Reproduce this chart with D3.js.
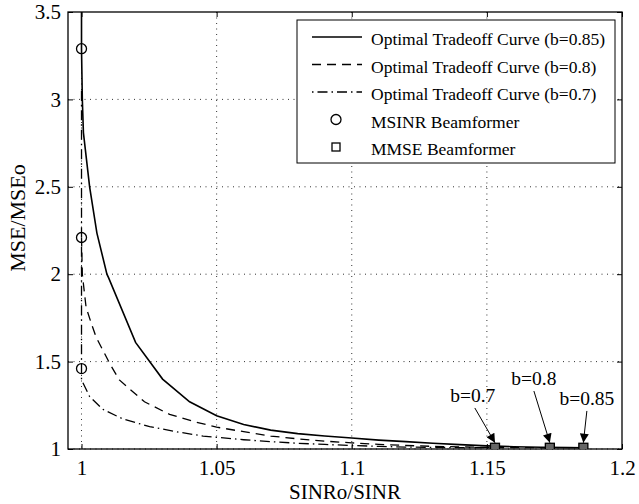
<!DOCTYPE html>
<meta charset="utf-8">
<style type="text/css">
  body { margin: 0; background: #fff; }
  svg { font-family: "Liberation Serif", "Times New Roman", serif; }
  .grid line { stroke: #333; stroke-width: 1; stroke-dasharray: 1,4.5; }
  .axis path { display: none; }
  .axis line { stroke: #000; stroke-width: 1; }
  .axis text { font-size: 21px; fill: #000; font-family: "Liberation Serif", serif; }
</style>
<body></body>
<script src="https://d3js.org/d3.v7.min.js"></script>
<script>
  // ---- data ----
  var xTicks = [1, 1.05, 1.1, 1.15, 1.2];
  var yTicks = [1, 1.5, 2, 2.5, 3, 3.5];

  var seriesNames = ["Optimal Tradeoff Curve (b=0.85)",
    "Optimal Tradeoff Curve (b=0.8)",
    "Optimal Tradeoff Curve (b=0.7)"];

  // b = 0.85 (solid)
  var x085 = [1.0, 1.0, 1.0003, 1.0007, 1.003, 1.0057, 1.0094, 1.01, 1.02, 1.03, 1.04, 1.05,
    1.06, 1.07, 1.08, 1.09, 1.10, 1.11, 1.12, 1.13, 1.14, 1.15, 1.16, 1.17, 1.18, 1.1857];
  var y085 = [3.6, 3.29, 3.0, 2.81, 2.5, 2.235, 2.0, 1.98, 1.61, 1.40, 1.27, 1.19,
    1.14, 1.108, 1.088, 1.074, 1.063, 1.051, 1.042, 1.033, 1.025, 1.018, 1.013, 1.010, 1.008, 1.007];

  // b = 0.8 (dashed)
  var x08 = [1.0, 1.0003, 1.0011, 1.0017, 1.0036, 1.0054, 1.0104, 1.014, 1.0233, 1.0326, 1.0425,
    1.05, 1.06, 1.07, 1.08, 1.09, 1.10, 1.11, 1.12, 1.13, 1.14, 1.15, 1.16, 1.1733];
  var y08 = [2.21, 2.0, 1.89, 1.81, 1.72, 1.64, 1.49, 1.395, 1.27, 1.198, 1.153,
    1.125, 1.099, 1.074, 1.058, 1.045, 1.035, 1.027, 1.02, 1.015, 1.012, 1.009, 1.008, 1.007];

  // b = 0.7 (dash-dot)
  var x07 = [1.0, 1.0, 1.0, 1.003, 1.0079, 1.0153, 1.0252, 1.035, 1.045, 1.05, 1.06, 1.07,
    1.08, 1.09, 1.10, 1.11, 1.12, 1.13, 1.14, 1.153];
  var y07 = [3.05, 1.46, 1.395, 1.30, 1.227, 1.172, 1.128, 1.099, 1.074, 1.067, 1.053, 1.042,
    1.033, 1.026, 1.02, 1.015, 1.011, 1.009, 1.008, 1.007];

  var msinrX = [1, 1, 1];
  var msinrY = [3.29, 2.21, 1.46];
  var mmseX = [1.153, 1.1733, 1.1857];
  var mmseY = [1.007, 1.007, 1.007];

  var annLabels = ["b=0.7", "b=0.8", "b=0.85"];
  var annX = [1.1448, 1.1674, 1.187];
  var annY = [1.269, 1.366, 1.252];

  // ---- layout ----
  var W = 639, H = 504;
  var margin = { top: 12, right: 17, bottom: 55, left: 68 },
    width = W - margin.left - margin.right,
    height = H - margin.top - margin.bottom;

  var x = d3.scaleLinear().domain([0.995, 1.2]).range([0, width]);
  var y = d3.scaleLinear().domain([1, 3.5]).range([height, 0]);

  var svg = d3.select("body").append("svg")
    .attr("width", W).attr("height", H);

  var defs = svg.append("defs");
  defs.append("clipPath").attr("id", "clip")
    .append("rect").attr("width", width).attr("height", height);
  defs.append("marker")
    .attr("id", "arrow")
    .attr("viewBox", "0 0 10 10")
    .attr("refX", 10).attr("refY", 5)
    .attr("markerUnits", "userSpaceOnUse")
    .attr("markerWidth", 12).attr("markerHeight", 9)
    .attr("orient", "auto")
    .append("path").attr("d", "M0,0L10,5L0,10z").attr("fill", "#000");

  var g = svg.append("g")
    .attr("transform", "translate(" + margin.left + "," + margin.top + ")");

  // grid
  var grid = g.append("g").attr("class", "grid");
  grid.selectAll(".gx").data(xTicks.filter(function(d) { return d < 1.19; }))
    .enter().append("line")
    .attr("x1", function(d) { return x(d); }).attr("x2", function(d) { return x(d); })
    .attr("y1", 0).attr("y2", height);
  grid.selectAll(".gy").data(yTicks.filter(function(d) { return d < 3.4; }))
    .enter().append("line")
    .attr("x1", 0).attr("x2", width)
    .attr("y1", function(d) { return y(d); }).attr("y2", function(d) { return y(d); });

  // axes (ticks pointing inward)
  g.append("g").attr("class", "axis")
    .attr("transform", "translate(0," + height + ")")
    .call(d3.axisBottom(x).tickValues(xTicks).tickSize(-5).tickPadding(11)
      .tickFormat(function(d) { return String(d); }));
  g.append("g").attr("class", "axis")
    .call(d3.axisLeft(y).tickValues(yTicks).tickSize(-5).tickPadding(7)
      .tickFormat(function(d) { return String(d); }));
  g.append("g").attr("class", "axis")
    .call(d3.axisTop(x).tickValues(xTicks).tickSize(-5).tickFormat(""));
  g.append("g").attr("class", "axis")
    .attr("transform", "translate(" + width + ",0)")
    .call(d3.axisRight(y).tickValues(yTicks).tickSize(-5).tickFormat(""));

  g.append("rect")
    .attr("width", width).attr("height", height)
    .attr("fill", "none").attr("stroke", "#000").attr("stroke-width", 1.3);

  // curves
  var line = d3.line()
    .x(function(d) { return x(d[0]); })
    .y(function(d) { return y(d[1]); });

  var curves = [
    { xs: x085, ys: y085, dash: null, w: 1.6 },
    { xs: x08, ys: y08, dash: "9,6", w: 1.3 },
    { xs: x07, ys: y07, dash: "10,4,1.5,4", w: 1.3 }
  ];

  var plot = g.append("g").attr("clip-path", "url(#clip)");
  curves.forEach(function(c) {
    plot.append("path")
      .datum(d3.zip(c.xs, c.ys))
      .attr("d", line)
      .attr("fill", "none")
      .attr("stroke", "#000")
      .attr("stroke-width", c.w)
      .attr("stroke-dasharray", c.dash);
  });

  plot.selectAll(".msinr").data(d3.zip(msinrX, msinrY))
    .enter().append("circle")
    .attr("cx", function(d) { return x(d[0]); })
    .attr("cy", function(d) { return y(d[1]); })
    .attr("r", 5)
    .attr("fill", "none").attr("stroke", "#000").attr("stroke-width", 1.3);

  plot.selectAll(".mmse").data(d3.zip(mmseX, mmseY))
    .enter().append("rect")
    .attr("x", function(d) { return x(d[0]) - 4.5; })
    .attr("y", function(d) { return y(d[1]) - 4.5; })
    .attr("width", 9).attr("height", 9)
    .attr("fill", "#666").attr("stroke", "#000").attr("stroke-width", 1.3);

  // annotations
  annLabels.forEach(function(t, i) {
    g.append("text")
      .attr("x", x(annX[i])).attr("y", y(annY[i]))
      .attr("text-anchor", "middle")
      .attr("font-size", 19.5)
      .text(t);
    g.append("line")
      .attr("x1", x(annX[i]) + (i === 0 ? 2 : 0)).attr("y1", y(annY[i]) + 6)
      .attr("x2", x(mmseX[i])).attr("y2", y(mmseY[i]) - 5)
      .attr("stroke", "#000").attr("stroke-width", 1)
      .attr("marker-end", "url(#arrow)");
  });

  // axis labels
  svg.append("text")
    .attr("x", margin.left + width / 2).attr("y", 499)
    .attr("text-anchor", "middle").attr("font-size", 21)
    .text("SINRo/SINR");
  svg.append("text")
    .attr("transform", "translate(25," + 218 + ") rotate(-90)")
    .attr("text-anchor", "middle").attr("font-size", 22)
    .text("MSE/MSEo");

  // legend
  var lg = svg.append("g");
  lg.append("rect")
    .attr("x", 297).attr("y", 20).attr("width", 318).attr("height", 143)
    .attr("fill", "#fff").attr("stroke", "#000").attr("stroke-width", 1);

  var legendItems = [
    { label: seriesNames[0], kind: "line", dash: null, w: 1.6 },
    { label: seriesNames[1], kind: "line", dash: "9,6", w: 1.3 },
    { label: seriesNames[2], kind: "line", dash: "1.5,4,10,4", w: 1.3 },
    { label: "MSINR Beamformer", kind: "circle" },
    { label: "MMSE Beamformer", kind: "square" }
  ];
  legendItems.forEach(function(it, i) {
    var ry = 37 + i * 27.5;
    if (it.kind === "line") {
      lg.append("line")
        .attr("x1", 312).attr("x2", 362).attr("y1", ry).attr("y2", ry)
        .attr("stroke", "#000").attr("stroke-width", it.w)
        .attr("stroke-dasharray", it.dash);
    } else if (it.kind === "circle") {
      lg.append("circle").attr("cx", 336).attr("cy", ry).attr("r", 5)
        .attr("fill", "none").attr("stroke", "#000").attr("stroke-width", 1.3);
    } else {
      lg.append("rect").attr("x", 332).attr("y", ry - 4).attr("width", 8).attr("height", 8)
        .attr("fill", "none").attr("stroke", "#000").attr("stroke-width", 1.3);
    }
    lg.append("text")
      .attr("x", 371).attr("y", ry + 8)
      .attr("font-size", 17.5)
      .text(it.label);
  });
</script>
